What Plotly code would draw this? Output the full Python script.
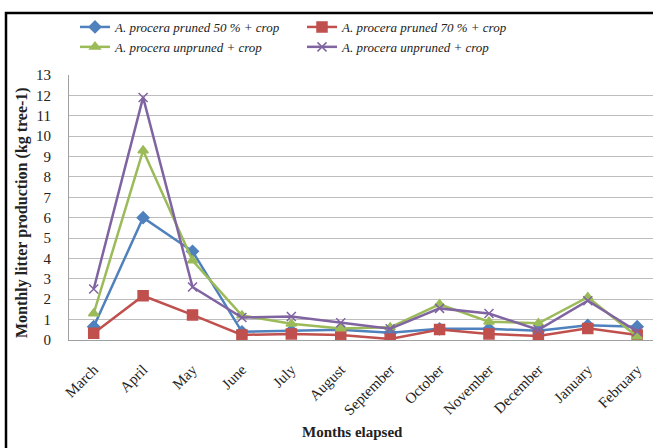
import plotly.graph_objects as go

months = ["March", "April", "May", "June", "July", "August", "September",
          "October", "November", "December", "January", "February"]
pruned50 = [0.65, 6.0, 4.35, 0.4, 0.45, 0.5, 0.35, 0.55, 0.55, 0.45, 0.72, 0.65]
pruned70 = [0.33, 2.17, 1.23, 0.25, 0.3, 0.25, 0.05, 0.52, 0.3, 0.2, 0.57, 0.25]
unpruned_green = [1.3, 9.3, 3.9, 1.2, 0.8, 0.57, 0.62, 1.75, 0.9, 0.82, 2.1, 0.17]
unpruned_purple = [2.5, 11.9, 2.6, 1.1, 1.15, 0.85, 0.55, 1.55, 1.3, 0.5, 1.93, 0.42]

names = ["A. procera pruned 50 % + crop", "A. procera pruned 70 % + crop",
         "A. procera unpruned + crop", "A. procera unpruned + crop"]
series = [pruned50, pruned70, unpruned_green, unpruned_purple]
colors = ["#4F81BD", "#C0504D", "#9BBB59", "#8064A2"]
symbols = ["diamond", "square", "triangle-up", "x-thin"]
msizes = [9, 10, 9, 9]

fig = go.Figure()
for nm, ys, c, s, ms in zip(names, series, colors, symbols, msizes):
    fig.add_trace(go.Scatter(
        x=months, y=ys, name=nm, mode="lines+markers",
        line=dict(color=c, width=2.5),
        marker=dict(symbol=s, size=ms, color=c, line=dict(color=c, width=1.5)),
    ))

W, H = 653, 448
L, T, B = 69, 75, 108
pw = W - L
ph = H - T - B

def px2x(px):
    return (px - L) / pw

def py2y(py):
    return (H - B - py) / ph

fig.update_layout(
    width=W, height=H,
    margin=dict(l=L, r=0, t=T, b=B, autoexpand=False),
    paper_bgcolor="white", plot_bgcolor="white",
    font=dict(family="Liberation Serif", size=13, color="#222222"),
    showlegend=True,
    legend=dict(orientation="h", xref="container", yref="container",
                x=75 / W, y=1 - 12 / H, xanchor="left", yanchor="top",
                entrywidth=182, entrywidthmode="pixels", traceorder="normal",
                font=dict(family="Liberation Serif", size=13, style="italic", color="#222222"),
                bgcolor="rgba(0,0,0,0)", tracegroupgap=0, itemwidth=30),
    xaxis=dict(type="category", range=[-0.5, 11.32], tickangle=-45, automargin=False,
               showgrid=False, showline=True, linecolor="#a0a0a0", linewidth=1,
               ticks="outside", ticklen=14, tickcolor="rgba(0,0,0,0)",
               tickfont=dict(family="Liberation Serif", size=15, color="#222222")),
    yaxis=dict(range=[0, 13], dtick=1, showgrid=True, gridcolor="#bdbdbd", gridwidth=1,
               automargin=False,
               showline=True, linecolor="#a0a0a0", linewidth=1, zeroline=False,
               ticks="outside", ticklen=14, tickcolor="rgba(0,0,0,0)",
               tickfont=dict(family="Liberation Serif", size=15, color="#222222")),
    annotations=[
        dict(text="<b>Months elapsed</b>", xref="paper", yref="paper",
             x=px2x(352), y=py2y(432), xanchor="center", yanchor="middle",
             showarrow=False, font=dict(family="Liberation Serif", size=15, color="#222222")),
        dict(text="<b>Monthly litter production (kg tree-1)</b>", xref="paper", yref="paper",
             x=px2x(22), y=py2y(213), xanchor="center", yanchor="middle", textangle=-90,
             showarrow=False, font=dict(family="Liberation Serif", size=16, color="#222222")),
    ],
    shapes=[dict(type="rect", xref="paper", yref="paper",
                 x0=px2x(6), x1=px2x(700), y0=py2y(500), y1=py2y(13),
                 line=dict(color="black", width=2.5), fillcolor="rgba(0,0,0,0)", layer="above")],
)

fig.write_html("out.html", config={"displayModeBar": False},
               post_script="document.body.style.margin='0';document.body.style.overflow='hidden';")
